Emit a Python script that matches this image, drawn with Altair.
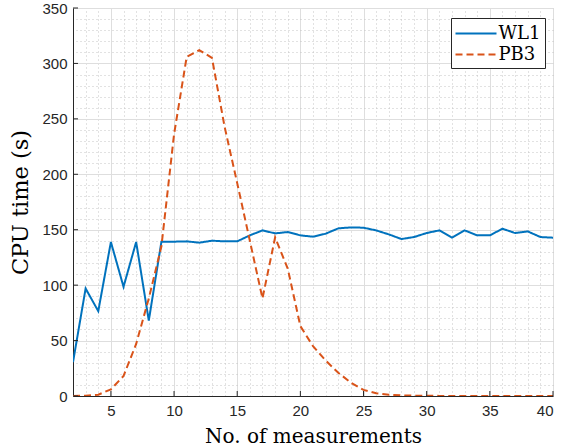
import altair as alt
import pandas as pd

# ---- data ----
measurements = list(range(2, 41))
wl1 = [30.5, 97, 76.5, 138.9, 98.5, 138.9, 68, 139.2, 139.2, 139.5,
       138.3, 140.1, 139.5, 139.5, 144.9, 149.4, 146.7, 147.9, 144.9, 143.7,
       146.4, 151.2, 152.1, 151.8, 149.4, 145.8, 141.6, 143.4, 147.0, 149.4,
       142.8, 149.4, 144.9, 144.9, 150.9, 147.0, 148.5, 143.4, 142.8]
pb3 = [0, 0.3, 1.2, 6, 18, 47, 88, 135, 236, 306,
       312, 305, 243, 192, 140, 88, 143, 115, 63, 45,
       32, 21, 12, 5.5, 2.4, 1.2, 0.6, 0.3, 0.2, 0.1,
       0.1, 0, 0, 0, 0, 0, 0, 0, 0]
series_names = ["WL1", "PB3"]
series_colors = ["#0072BD", "#D95319"]
x_ticks = [5, 10, 15, 20, 25, 30, 35, 40]
y_ticks = [0, 50, 100, 150, 200, 250, 300, 350]
x_minor = list(range(2, 41))
y_minor = list(range(0, 351, 10))

df = pd.DataFrame({
    "x": measurements * 2,
    "y": wl1 + pb3,
    "series": ["WL1"] * len(wl1) + ["PB3"] * len(pb3),
})

W, H = 480, 388
AX = "#262626"
SERIF = "DejaVu Serif"
xscale = alt.Scale(domain=[2, 40], nice=False, zero=False)
yscale = alt.Scale(domain=[0, 350], nice=False, zero=False)

# minor dotted grid (grid-only axes)
minor = alt.Chart(df).mark_point(opacity=0).encode(
    x=alt.X("x:Q", scale=xscale,
            axis=alt.Axis(values=x_minor, grid=True, gridDash=[1, 3], gridColor="#c4c4c4",
                          gridWidth=1, labels=False, ticks=False, domain=False,
                          title=None, orient="top")),
    y=alt.Y("y:Q", scale=yscale,
            axis=alt.Axis(values=y_minor, grid=True, gridDash=[1, 3], gridColor="#c4c4c4",
                          gridWidth=1, labels=False, ticks=False, domain=False,
                          title=None, orient="right")),
)

legend = alt.Legend(
    title=None, orient="none", legendX=378, legendY=10,
    symbolType="M-1.1,0H3.0", symbolSize=400, symbolStrokeWidth=2,
    labelFont=SERIF, labelFontSize=18, labelColor="#000000",
    labelOffset=21, rowPadding=1, padding=4.5,
    strokeColor=AX, fillColor="white", cornerRadius=0,
)

lines = alt.Chart(df).mark_line(strokeWidth=2, clip=True).encode(
    x=alt.X("x:Q", scale=xscale,
            axis=alt.Axis(values=x_ticks, grid=True, gridColor="#dedede", gridWidth=1,
                          tickSize=0, ticks=False, labelPadding=7, domainColor=AX,
                          title="No. of measurements", titlePadding=8,
                          titleFontSize=20, orient="bottom")),
    y=alt.Y("y:Q", scale=yscale,
            axis=alt.Axis(values=y_ticks, grid=True, gridColor="#dedede", gridWidth=1,
                          tickSize=0, ticks=False, labelPadding=6, domainColor=AX,
                          title="CPU time (s)", titlePadding=9,
                          titleFontSize=22.5, orient="left")),
    color=alt.Color("series:N", scale=alt.Scale(domain=series_names, range=series_colors),
                    legend=legend),
    strokeDash=alt.StrokeDash("series:N",
                              scale=alt.Scale(domain=series_names, range=[[1, 0], [7, 4]]),
                              legend=legend),
    order=alt.Order("x:Q"),
)

ydf = pd.DataFrame({"v": y_ticks})
xdf = pd.DataFrame({"v": x_ticks})
ytick_marks = alt.Chart(ydf).mark_rule(color=AX, strokeWidth=1).encode(
    y=alt.Y("v:Q", scale=yscale, axis=None), x=alt.value(0), x2=alt.value(5))
xtick_marks = alt.Chart(xdf).mark_rule(color=AX, strokeWidth=1).encode(
    x=alt.X("v:Q", scale=xscale, axis=None), y=alt.value(H), y2=alt.value(H - 5))

chart = alt.layer(minor, lines, ytick_marks, xtick_marks).resolve_axis(
    x="independent", y="independent"
).properties(
    width=W, height=H,
    autosize=alt.AutoSizeParams(type="none"),
    padding={"left": 73, "top": 8, "right": 9, "bottom": 51},
).configure_view(stroke=None).configure_axis(
    labelFont="Liberation Sans", labelFontSize=15, labelColor=AX,
    titleFont=SERIF, titleFontWeight="normal", titleColor="#000000",
)

chart.save("out.html", embed_options={"renderer": "svg", "actions": False})
